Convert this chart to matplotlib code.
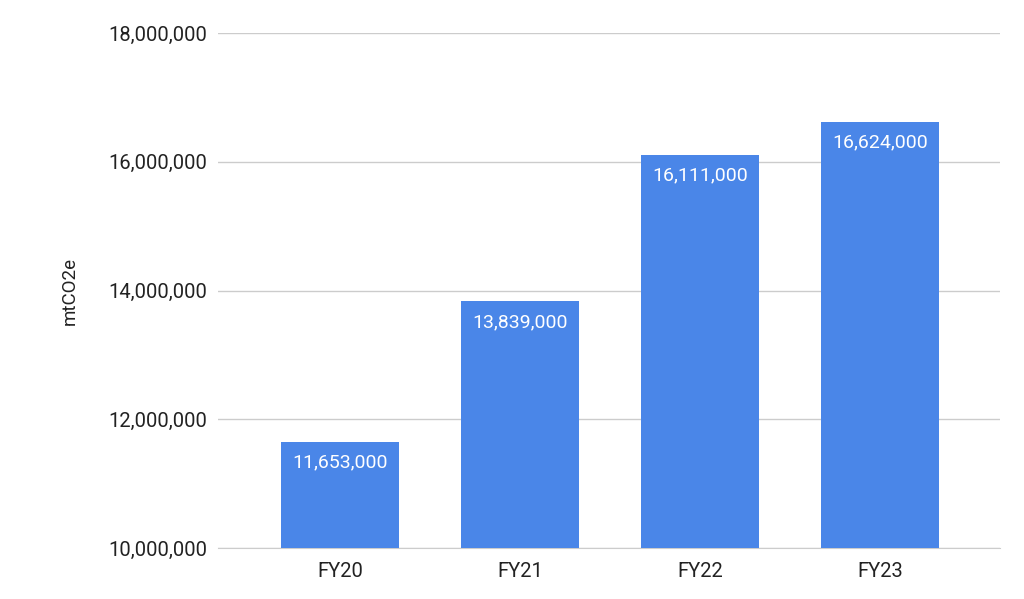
import matplotlib
matplotlib.use("Agg")
from matplotlib import pyplot as plt
from matplotlib.ticker import FuncFormatter
import numpy as np

plt.rcParams['font.family'] = ['Roboto', 'DejaVu Sans']

# Data
years = ['FY20', 'FY21', 'FY22', 'FY23']
emissions = [11653000, 13839000, 16111000, 16624000]
y_ticks = [10000000, 12000000, 14000000, 16000000, 18000000]

fig = plt.figure(figsize=(10.24, 5.99), dpi=100)
ax = fig.add_axes([218 / 1024, 51 / 599, 782 / 1024, 515 / 599])

x = np.arange(len(years))
bars = ax.bar(x, emissions, width=0.655, color='#4a86e8', zorder=3)

# Value labels inside top of bars
for xi, val in zip(x, emissions):
    ax.text(xi, val - 190000, f'{val:,}', ha='center', va='top',
            color='white', fontsize=14)

ax.set_xlim(-0.678, 3.667)
ax.set_ylim(10000000, 18000000)
ax.set_yticks(y_ticks)
ax.yaxis.set_major_formatter(FuncFormatter(lambda v, p: f'{int(v):,}'))
ax.set_xticks(x)
ax.set_xticklabels(years)

ax.grid(axis='y', color='#cccccc', linewidth=1, zorder=0)
for side in ['top', 'right', 'left']:
    ax.spines[side].set_visible(False)
ax.spines['bottom'].set_color('#cccccc')
ax.tick_params(axis='both', length=0, labelsize=14.5, colors='#222222')
ax.tick_params(axis='y', pad=8)
ax.tick_params(axis='x', pad=10)

ax.set_ylabel('mtCO2e', fontsize=13.5, color='#222222', labelpad=21)

fig.savefig('out.png', dpi=100)
